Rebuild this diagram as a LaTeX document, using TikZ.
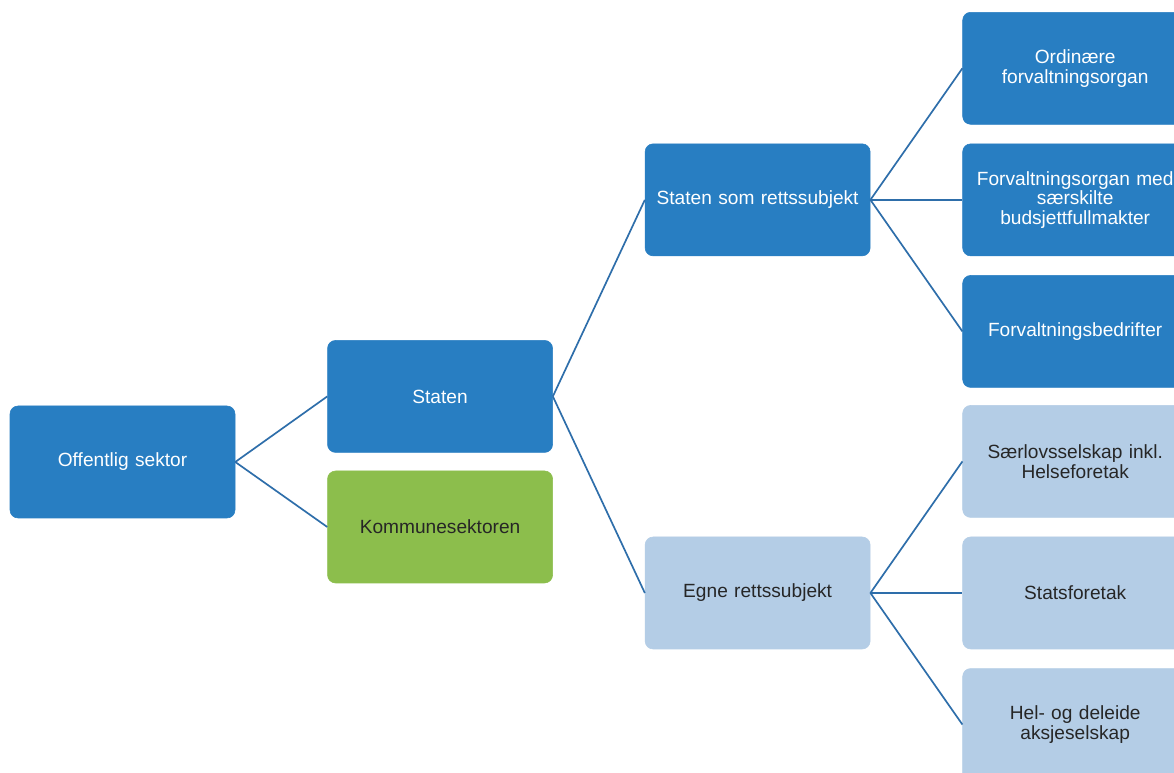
\documentclass[tikz,border=0pt]{standalone}
\usepackage{fontspec}
\setmainfont{Liberation Sans}
\usepackage{xcolor}
\usepackage{tikz}
\usetikzlibrary{positioning}
\definecolor{darkbox}{RGB}{40,126,194}
\definecolor{lightbox}{RGB}{180,205,230}
\definecolor{greenbox}{RGB}{140,190,76}
\definecolor{linkblue}{RGB}{46,110,170}
\tikzstyle{unit} = [rectangle, rounded corners=0.2cm, minimum width=5.625cm, minimum height=2.8cm, text width=5.4cm, align=center, inner sep=0pt, font=\fontsize{13.6}{14}\selectfont, draw=darkbox, fill=darkbox, text=white]
\tikzstyle{subunit} = [unit, draw=lightbox, fill=lightbox, text=black!85]
\tikzstyle{link} = [draw=linkblue, line width=1.2pt]

\begin{document}
\begin{tikzpicture}[node distance=2.3cm]
            \clip (0,0) rectangle (29.35,19.325);
            \fill[white] (0,0) rectangle (29.35,19.325);
            \node[unit] (offentlig) at (3.0625,7.775) {Offentlig sektor};

            \node[unit, above right=-1.175cm and 2.3cm of offentlig] (staten) {Staten};
            \node[unit, draw=greenbox, fill=greenbox, text=black!85, below=0.45cm of staten] (kommune) {Kommunesektoren};

            \node[unit, above right=2.1cm and 2.3cm of staten] (statenrs) {Staten som rettssubjekt};
            \node[subunit, below right=2.1cm and 2.3cm of staten] (egne) {Egne rettssubjekt};

            \node[unit, right=of statenrs] (saerskilt) {Forvaltningsorgan med\\særskilte\\budsjettfullmakter};
            \node[unit, above=0.475cm of saerskilt] (ordinaere) {Ordinære\\forvaltningsorgan};
            \node[unit, below=0.475cm of saerskilt] (bedrifter) {Forvaltningsbedrifter};

            \node[subunit, right=of egne] (statsforetak) {Statsforetak};
            \node[subunit, above=0.475cm of statsforetak] (saerlov) {Særlovsselskap inkl.\\Helseforetak};
            \node[subunit, below=0.475cm of statsforetak] (aksje) {Hel- og deleide\\aksjeselskap};

            \draw[link] (offentlig.east) -- (staten.west);
            \draw[link] (offentlig.east) -- (kommune.west);
            \draw[link] (staten.east) -- (statenrs.west);
            \draw[link] (staten.east) -- (egne.west);
            \draw[link] (statenrs.east) -- (ordinaere.west);
            \draw[link] (statenrs.east) -- (saerskilt.west);
            \draw[link] (statenrs.east) -- (bedrifter.west);
            \draw[link] (egne.east) -- (saerlov.west);
            \draw[link] (egne.east) -- (statsforetak.west);
            \draw[link] (egne.east) -- (aksje.west);
        \end{tikzpicture}
\end{document}
